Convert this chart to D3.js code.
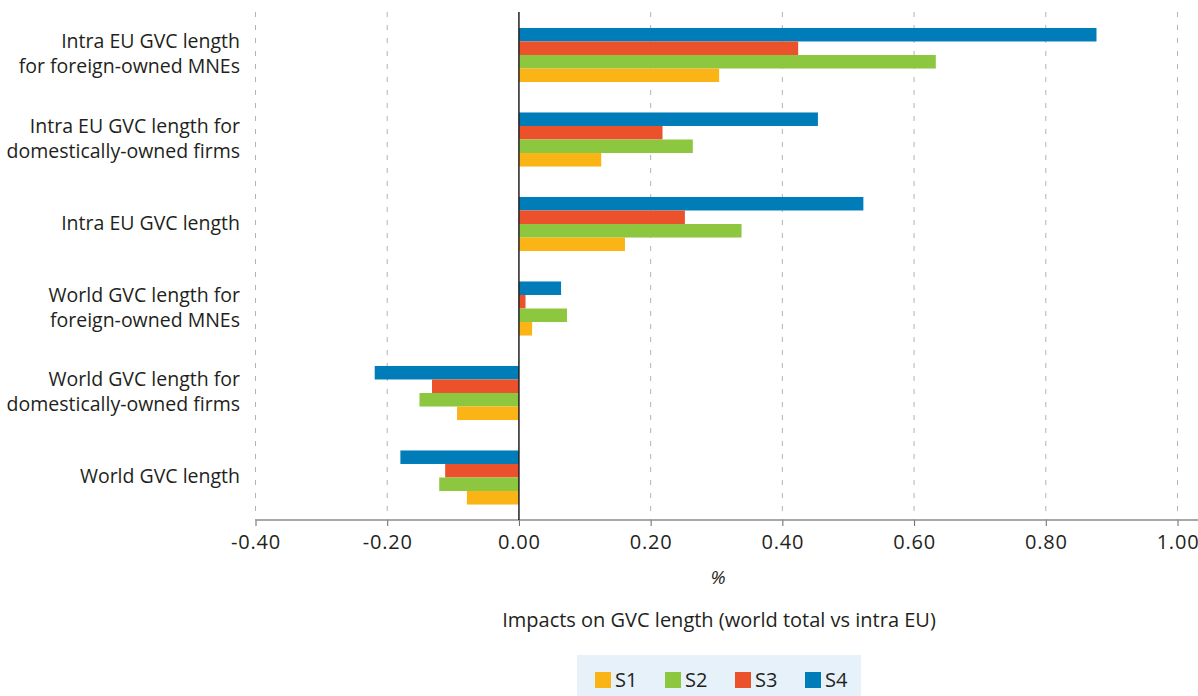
<!DOCTYPE html>
<html>
<head>
<meta charset="utf-8">
<script src="https://cdn.jsdelivr.net/npm/d3@7"></script>
<style>
  html, body { margin: 0; padding: 0; background: #ffffff; }
  svg { display: block; }
  text { fill: #231f20; }
</style>
</head>
<body>
<svg id="chart" width="1198" height="696"></svg>
<script>
// Categories, top to bottom
const categories = [
  ["Intra EU GVC length", "for foreign-owned MNEs"],
  ["Intra EU GVC length for", "domestically-owned firms"],
  ["Intra EU GVC length"],
  ["World GVC length for", "foreign-owned MNEs"],
  ["World GVC length for", "domestically-owned firms"],
  ["World GVC length"]
];

// Scenario series (per cent), one value per category
const seriesNames = ["S1", "S2", "S3", "S4"];
const s1 = [0.304, 0.125, 0.161, 0.020, -0.094, -0.079];
const s2 = [0.633, 0.264, 0.338, 0.073, -0.151, -0.121];
const s3 = [0.424, 0.218, 0.252, 0.010, -0.132, -0.112];
const s4 = [0.877, 0.454, 0.523, 0.064, -0.219, -0.180];
const seriesColors = ["#fbb415", "#8dc63f", "#eb512a", "#007db8"];

const xTicks = [-0.4, -0.2, 0, 0.2, 0.4, 0.6, 0.8, 1.0];
const xLabel = "%";
const chartTitle = "Impacts on GVC length (world total vs intra EU)";

const seriesValues = [s1, s2, s3, s4];
const svg = d3.select("#chart");
const font = "'Open Sans', sans-serif";

const x = d3.scaleLinear().domain([-0.4, 1.0]).range([255.5, 1177.5]);
const y = d3.scaleBand().domain(d3.range(categories.length)).range([12.75, 519.75])
  .paddingInner(0.36).paddingOuter(0.18);
// Bars inside a group are drawn top to bottom as S4, S3, S2, S1
const order = [3, 2, 1, 0];
const yInner = d3.scaleBand().domain(order).range([0, y.bandwidth()]);

// Dashed grid lines
svg.append("g").selectAll("line")
  .data(xTicks.filter(t => t !== 0))
  .join("line")
  .attr("x1", d => x(d)).attr("x2", d => x(d))
  .attr("y1", 12).attr("y2", 520)
  .attr("stroke", "#b3b3b3").attr("stroke-width", 1)
  .attr("stroke-dasharray", "5,8");

// Bars
const groups = svg.append("g").selectAll("g")
  .data(categories.map((c, i) => i))
  .join("g")
  .attr("transform", i => `translate(0,${y(i)})`);

groups.selectAll("rect")
  .data(i => order.map(s => ({ s, v: seriesValues[s][i] })))
  .join("rect")
  .attr("x", d => x(Math.min(0, d.v)))
  .attr("width", d => Math.abs(x(d.v) - x(0)))
  .attr("y", d => yInner(d.s))
  .attr("height", yInner.bandwidth())
  .attr("fill", d => seriesColors[d.s]);

// Category labels
const labels = svg.append("g").selectAll("text")
  .data(categories)
  .join("text")
  .attr("text-anchor", "end")
  .attr("font-family", font)
  .attr("font-size", 19.5)
  .attr("x", 240)
  .attr("y", (d, i) => y(i) + y.bandwidth() / 2 - 1);
labels.selectAll("tspan")
  .data(d => d.map((t, k) => ({ t, k, n: d.length })))
  .join("tspan")
  .attr("x", 240)
  .attr("dy", d => d.k === 0 ? `${0.35 - (d.n - 1) * 0.64}em` : "1.28em")
  .text(d => d.t);

// X axis
const axis = d3.axisBottom(x).tickValues(xTicks).tickFormat(d3.format(".2f")).tickSize(6).tickSizeOuter(0);
const gx = svg.append("g").attr("transform", "translate(0,520)").call(axis);
gx.select(".domain").remove();
gx.append("line").attr("x1", x(-0.4)).attr("x2", 1198).attr("stroke", "#8c8c8c").attr("stroke-width", 1.5);
gx.selectAll(".tick line").attr("stroke", "#666666");
gx.selectAll(".tick text")
  .attr("font-family", font).attr("font-size", 20).attr("letter-spacing", 0.8).attr("fill", "#231f20")
  .attr("y", 15).attr("dy", "0.71em")
  .text(d => d.toFixed(2));

// Zero line
svg.append("line")
  .attr("x1", x(0)).attr("x2", x(0)).attr("y1", 12).attr("y2", 520)
  .attr("stroke", "#231f20").attr("stroke-width", 1.5);

// Axis unit and title
svg.append("text").attr("x", 718).attr("y", 584).attr("text-anchor", "middle")
  .attr("font-family", font).attr("font-size", 19).attr("font-style", "italic").text(xLabel);
svg.append("text").attr("x", 719).attr("y", 627).attr("text-anchor", "middle")
  .attr("font-family", font).attr("font-size", 20).text(chartTitle);

// Legend
const legend = svg.append("g");
legend.append("rect").attr("x", 577).attr("y", 655).attr("width", 284).attr("height", 45).attr("fill", "#e6f1f9");
const li = legend.selectAll("g.item").data(seriesNames).join("g")
  .attr("class", "item")
  .attr("transform", (d, i) => `translate(${595 + i * 70},672)`);
li.append("rect").attr("width", 16).attr("height", 16).attr("fill", (d, i) => seriesColors[i]);
li.append("text").attr("x", 20).attr("y", 8).attr("dy", "0.35em")
  .attr("font-family", font).attr("font-size", 20).text(d => d);
</script>
</body>
</html>
